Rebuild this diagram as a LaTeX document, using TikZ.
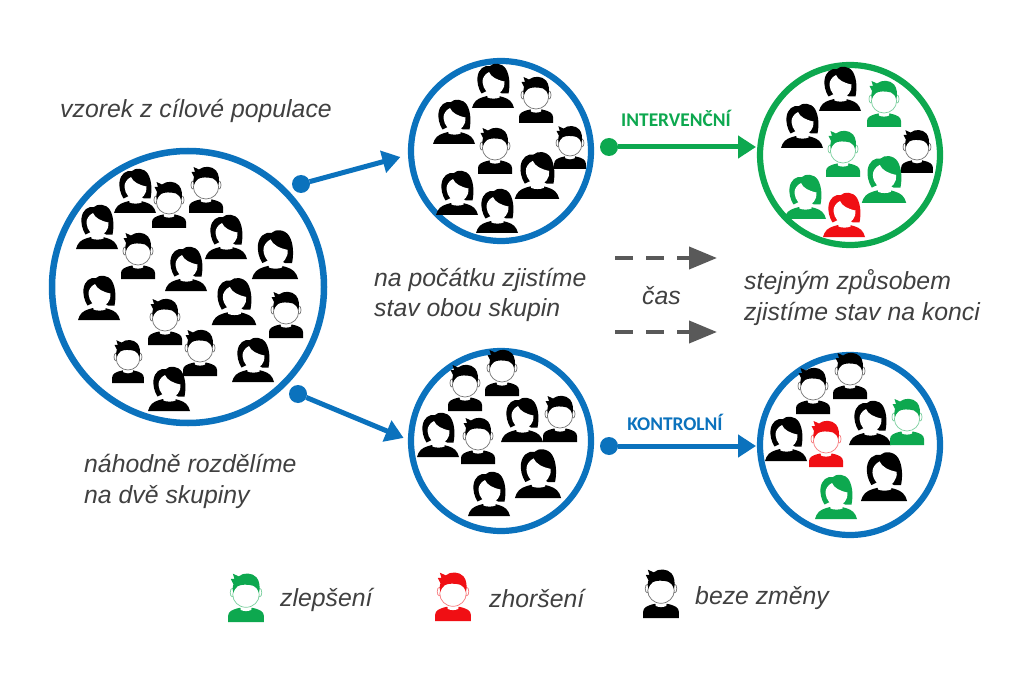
\documentclass[tikz,border=0pt]{standalone}
\usepackage{fontspec}
\setmainfont{Liberation Sans}
\newfontfamily\labfont{Carlito}
\usetikzlibrary{arrows.meta}
\definecolor{cblue}{HTML}{0B72BD}
\definecolor{cgreen}{HTML}{0DA84F}
\definecolor{cred}{HTML}{F00F14}
\definecolor{cgrey}{HTML}{595959}
\definecolor{ctext}{HTML}{404040}
\newcommand\manfig[4][1]{%
\begin{scope}[shift={(#2,#3)},scale=#1]
\fill[#4] (-17,0) -- (-17,-6) .. controls (-17,-10) and (-13,-12) .. (-6,-13.5) -- (6,-13.5) .. controls (13,-12) and (17,-10) .. (17,-6) -- (17,0) -- cycle;
\fill[white] (-5.5,-15) -- (5.5,-15) -- (5,-11.5) .. controls (2,-10) and (-2,-10) .. (-5,-11.5) -- cycle;
\filldraw[fill=white,draw=#4!55,line width=.7] (-13.2,-28) circle[x radius=1.8,y radius=4] (13.2,-28) circle[x radius=1.8,y radius=4];
\filldraw[fill=white,draw=#4!55,line width=.7] (0,-26) circle[x radius=12.6,y radius=12];
\fill[#4] (-12.2,-28) .. controls (-13,-31) and (-12.8,-33.5) .. (-12,-36) -- (-14.5,-41) -- (-11,-41) -- (-12.5,-46) -- (-7,-43.5) .. controls (-2,-47.5) and (6,-47) .. (10,-42.5) .. controls (13,-39) and (13.6,-33) .. (12.4,-28) .. controls (11.5,-31) and (10,-33) .. (7,-34.5) .. controls (2,-36) and (-5,-36) .. (-8,-34) .. controls (-10,-32.5) and (-11.4,-30) .. (-12.2,-28) -- cycle;
\end{scope}}
\newcommand\womanfig[4][1]{%
\begin{scope}[shift={(#2,#3)},scale=#1]
\fill[#4] (-21,0) -- (-19.5,-4) .. controls (-17,-9) and (-12,-10.5) .. (-6,-12) -- (6,-12) .. controls (12,-10.5) and (17,-9) .. (19.5,-4) -- (21,0) -- cycle;
\fill[white] (-6,-14) -- (7,-14) -- (6.5,-10.5) .. controls (3,-9) and (-2,-9) .. (-5.5,-10.5) -- cycle;
\fill[#4] (-11.5,-14.5) .. controls (-15,-20) and (-16,-26) .. (-15.5,-31) .. controls (-14.5,-39) and (-9,-43) .. (-3,-42) .. controls (0,-45.5) and (9,-45.5) .. (13,-39) .. controls (17,-32) and (17,-22) .. (15.5,-14.5) -- (9,-14.5) -- (0,-20) -- cycle;
\fill[white] (1,-13) .. controls (-5,-13) and (-10,-19) .. (-10.5,-26) .. controls (-10.8,-30) and (-8,-34) .. (-4,-36) .. controls (-2,-31) and (4,-28) .. (11.5,-26.5) .. controls (12.5,-20) and (7,-13) .. (1,-13) -- cycle;
\end{scope}}
\tikzset{
  ring/.style={circle,draw=#1,line width=6.2,fill=white,inner sep=0,outer sep=0},
  dotn/.style={circle,fill=#1,inner sep=0,outer sep=0,minimum size=18},
  conn/.style={draw=#1,line width=5,-{Triangle[length=18,width=22]}},
  lab/.style={font=\fontsize{24.8}{24.8}\selectfont\itshape,text=ctext,align=left,inner sep=0,anchor=base west},
  grp/.style={font=\labfont\fontsize{19.4}{19.4}\selectfont\bfseries,text=#1,inner sep=0},
  dasharrow/.style={draw=cgrey,line width=4,dash pattern=on 18 off 13,-{Triangle[length=28,width=22]}}
}
\begin{document}
\begin{tikzpicture}[x=1pt,y=-1pt]
\useasboundingbox (0,0) rectangle (1024,676);
\fill[white] (0,0) rectangle (1024,676);
% circles
\node[ring=cblue,line width=6.5,minimum size=272] (big) at (188,287) {};
\node[ring=cblue,minimum size=180] (topmid) at (501,151) {};
\node[ring=cblue,minimum size=180] (botmid) at (501,441) {};
\node[ring=cgreen,minimum size=180] (topres) at (850,155) {};
\node[ring=cblue,minimum size=180] (botres) at (850,445) {};
% dots and connectors
\node[dotn=cblue] (dotA) at (301,184) {};
\node[dotn=cblue] (dotB) at (298,394) {};
\node[dotn=cgreen] (dotG) at (609,147) {};
\node[dotn=cblue] (dotK) at (609,446) {};
\draw[conn=cblue,shorten >=11] (dotA) -- (topmid.182);
\draw[conn=cblue,shorten >=8] (dotB) -- (botmid.180);
\draw[conn=cgreen,shorten >=4] (dotG) -- (dotG -| topres.west);
\draw[conn=cblue,shorten >=4] (dotK) -- (dotK -| botres.west);
% dashed
\coordinate (dA1) at (615,258); \coordinate (dA2) at (717,258);
\coordinate (dB1) at (615,332); \coordinate (dB2) at (717,332);
\draw[dasharrow] (dA1) -- (dA2);
\draw[dasharrow] (dB1) -- (dB2);
% people, big circle
\womanfig{135}{213}{black}
\manfig{169}{228}{black}
\manfig{206}{213}{black}
\womanfig{97}{249}{black}
\womanfig{226}{259}{black}
\manfig{138}{279}{black}
\womanfig[1.1]{275}{279}{black}
\womanfig{186}{291}{black}
\womanfig{99}{320}{black}
\womanfig[1.06]{234}{325}{black}
\manfig{286}{338}{black}
\manfig{165}{345}{black}
\manfig{200}{376}{black}
\manfig[.93]{128}{383}{black}
\womanfig{253}{382}{black}
\womanfig{169}{411}{black}
% top mid
\womanfig{493}{108}{black}
\manfig{536}{123}{black}
\womanfig{454}{144}{black}
\manfig{495}{174}{black}
\manfig[.93]{570}{169}{black}
\womanfig[1.06]{537}{199}{black}
\womanfig{457}{215}{black}
\womanfig{497}{233}{black}
% bottom mid
\manfig{465}{411}{black}
\manfig{502}{396}{black}
\womanfig{522}{442}{black}
\manfig{560}{442}{black}
\womanfig{438}{457}{black}
\manfig{478}{464}{black}
\womanfig[1.1]{538}{498}{black}
\womanfig{489}{516}{black}
% top result
\womanfig{840}{111}{black}
\manfig{884}{127}{cgreen}
\womanfig{802}{148}{black}
\manfig{843}{177}{cgreen}
\manfig[.93]{917}{173}{black}
\womanfig[1.06]{884}{203}{cgreen}
\womanfig{805}{219}{cgreen}
\womanfig{844}{237}{cred}
% bottom result
\manfig{813}{414}{black}
\manfig{850}{399}{black}
\womanfig{870}{445}{black}
\manfig{907}{445}{cgreen}
\womanfig{786}{461}{black}
\manfig{826}{467}{cred}
\womanfig[1.1]{884}{501}{black}
\womanfig{836}{519}{cgreen}
% legend
\manfig[1.05]{246}{622}{cgreen}
\manfig[1.05]{453}{621}{cred}
\manfig[1.05]{661}{618}{black}
% text
\node[lab] (t1) at (60,118) {vzorek z cílové populace};
\node[lab] (t2) at (374,286) {na počátku zjistíme};
\node[lab] (t2b) at (374,316) {stav obou skupin};
\node[lab] (t3) at (744,289) {stejným způsobem};
\node[lab] (t3b) at (744,320) {zjistíme stav na konci};
\node[lab] (t4) at (84,472) {náhodně rozdělíme};
\node[lab] (t4b) at (84,503) {na dvě skupiny};
\node[lab] (t5) at (642,304) {čas};
\node[lab] (l1) at (280,606) {zlepšení};
\node[lab] (l2) at (489,607) {zhoršení};
\node[lab] (l3) at (695,604) {beze změny};
\node[grp=cgreen] (gi) at (676,118) {INTERVENČNÍ};
\node[grp=cblue] (gk) at (675,422) {KONTROLNÍ};
\end{tikzpicture}
\end{document}
